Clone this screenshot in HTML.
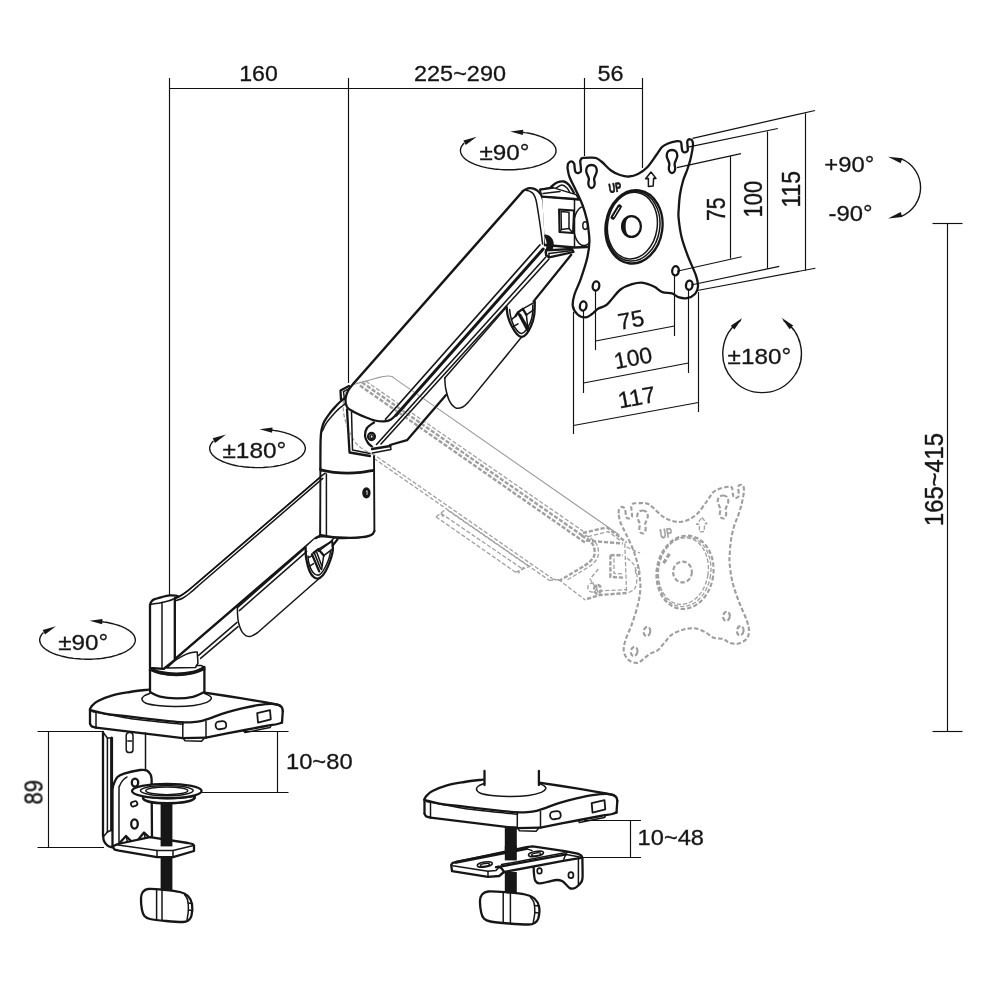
<!DOCTYPE html>
<html>
<head>
<meta charset="utf-8">
<title>Monitor arm dimensions</title>
<style>
html,body{margin:0;padding:0;background:#fff;}
body{width:1000px;height:1000px;overflow:hidden;}
svg{display:block;}
.k{fill:none;stroke:#161616;stroke-width:2.3;stroke-linecap:round;stroke-linejoin:round;}
.m{fill:none;stroke:#161616;stroke-width:1.5;stroke-linecap:round;stroke-linejoin:round;}
.t{fill:none;stroke:#111;stroke-width:1.15;stroke-linecap:butt;stroke-linejoin:round;}
.w{fill:#fff;}
.b{fill:#161616;stroke:none;}
.g{fill:none;stroke:#a0a0a0;stroke-width:1.3;stroke-dasharray:4.2 2;stroke-linecap:butt;stroke-linejoin:round;}
.g2{fill:none;stroke:#9e9e9e;stroke-width:2.1;stroke-dasharray:4.4 2.2;}
.g1{fill:none;stroke:#9a9a9a;stroke-width:1.1;}
.g3{fill:none;stroke:#a0a0a0;stroke-width:2.4;stroke-dasharray:4.2 1.8;}
.r{fill:none;stroke:#161616;stroke-width:1.4;}
text{font-family:"Liberation Sans",sans-serif;font-size:22.8px;fill:#161616;stroke:#161616;stroke-width:.3px;}
.v text{font-size:25px;stroke-width:.4px;}
.gt{fill:#a3a3a3;stroke:#a3a3a3;}
</style>
</head>
<body>
<svg width="1000" height="1000" viewBox="0 0 1000 1000" style="opacity:.999">
<rect width="1000" height="1000" fill="#fff"/>

<!-- ===== MAIN DRAWING ===== -->
<g id="main">
<path class="w" d="M90 709L90 724L96 727.6L182.8 738.2L206 737.6L245 730L277.5 724.4L282 722L282.6 709L280.6 706.4L274 704L242 698.4L206.8 692.8L176 690L148.4 689.6L112.5 695.4L98 701Z"/>
<path class="k" d="M148.4 689.6C145.3 690 136 691 130 692C124 693 117.8 693.9 112.5 695.4C107.2 696.9 101.3 699.3 98 701C94.7 702.7 93.7 704.1 92.4 705.4C91.1 706.7 90.4 708.4 90 709"/>
<path class="k" d="M204.6 692.6C210.8 693.6 230.4 696.5 242 698.4C253.6 700.3 267.7 702.8 274 704C280.3 705.2 278.3 705 279.6 705.6C280.9 706.2 281.5 706.7 282 707.6C282.5 708.5 282.7 710.4 282.8 711"/>
<path class="k" d="M282.8 711L282 722.6"/>
<path class="k" d="M90 710C92.5 710.6 98.3 712.5 105 713.6C111.7 714.7 120.5 715.5 130 716.6C139.5 717.7 154.3 719.5 162 720.4C169.7 721.3 172.5 721.5 176 721.8C179.5 722.1 181.7 722.3 182.8 722.4"/>
<path class="k" d="M182.8 722.4C184.5 722.4 189.8 722.5 193 722.2C196.2 721.9 198.8 721.6 202 720.8C205.2 720 208 719 212 717.6C216 716.2 221 714.1 226 712.6C231 711.1 236.7 709.6 242 708.4C247.3 707.2 253 706 258 705.2C263 704.4 268.3 703.7 272 703.8C275.7 703.9 278.7 705.3 280 705.6"/>
<path class="k" d="M90 709.4L90 723.6"/>
<path class="k" d="M90 723.6C90.3 724 90.6 725.5 91.6 726.2C92.6 726.9 95.3 727.4 96 727.6"/>
<path class="k" d="M96 727.6L182.8 738.2L206 737.6"/>
<path class="k" d="M206 737.6C212.5 736.3 235 731.9 245 730C255 728.1 260.6 727 266 726C271.4 725 274.8 724.6 277.5 724C280.2 723.4 281.2 722.7 282 722.4"/>
<path class="m" d="M96 713.6L96 727.4"/>
<path class="m" d="M182.8 722.6L182.8 738"/>
<path class="m" d="M206 721.4L206 737.4"/>
<path class="m" d="M92 711.4C98.3 712.6 116 716.4 130 718.4C144 720.4 167.2 722.6 176 723.6C184.8 724.6 181.8 724.1 183 724.2"/>
<path class="m" d="M183.4 738.6L185 740.8L201.6 741.2L204 738.4"/>
<path class="m" d="M244 730.6L245 732.6L270 727.6L271 725.6"/>
<rect class="k" x="215.6" y="721.4" width="10.6" height="7.6" rx="3.4" transform="rotate(-8 221 725.2)" style="stroke-width:1.8"/>
<path class="k" d="M257.2 713.2L270 710.2L270.8 719.4L258 722.6Z" style="stroke-width:1.8"/>
<path class="m w" d="M174.8 598C175.7 597.7 178 597.1 180 596C182 594.9 184 593.7 187 591.4C190 589.1 196 583.9 197.8 582.4L321.2 476.4L320.2 536L314.4 539.2L163.6 668.8L174.8 660Z"/>
<path class="k" d="M163.6 668.8L314.4 539.2C314.8 538.9 315.8 537.9 316.6 537.4C317.4 536.9 318.8 536.6 319.2 536.4"/>
<path class="m" d="M198.6 655.4L237 622.4"/>
<path class="m" d="M200.6 658.4L238 626.6"/>
<path class="w" d="M237.4 607.6C237.4 608.8 237.4 612.4 237.6 615C237.8 617.6 237.8 620.1 238.6 623C239.4 625.9 240.8 630.3 242.6 632.6C244.4 634.9 247.2 636.5 249.6 636.6C252 636.7 255.9 633.6 257.2 633L320 577.8C320.9 576.7 323.9 574.2 325.6 571.2C327.3 568.2 329.2 563.5 330.4 560C331.6 556.5 332.5 553.3 332.8 550.4C333.1 547.5 332.5 543.7 332.4 542.4L337.6 539.2L314.4 539.2L305.6 547.6Z"/>
<path class="m" d="M237.4 607.6C237.4 608.8 237.4 612.4 237.6 615C237.8 617.6 237.8 620.1 238.6 623C239.4 625.9 240.8 630.3 242.6 632.6C244.4 634.9 247.2 636.5 249.6 636.6C252 636.7 255.9 633.6 257.2 633L320 577.8"/>
<path class="m" d="M237.4 607.6L305.6 547.6"/>
<path class="m" d="M239.4 610.6L306.6 551.6"/>
<path class="k" d="M305.6 547.6C305.7 549.4 305.5 554.5 306.2 558.4C306.9 562.3 308.2 568 309.6 571.2C311 574.4 312.7 576.5 314.4 577.6C316.1 578.7 318.1 578.9 320 577.8C321.9 576.7 323.9 574.2 325.6 571.2C327.3 568.2 329.2 563.5 330.4 560C331.6 556.5 332.5 553.3 332.8 550.4C333.1 547.5 332.5 543.7 332.4 542.4"/>
<path class="m" d="M308 556C308.1 557 308.1 559.7 308.6 562C309.1 564.3 310.1 567.5 311.2 569.6C312.3 571.7 313.7 573.6 315.2 574.4C316.7 575.2 318.4 575.5 320 574.4C321.6 573.3 323.4 570.5 324.8 568C326.2 565.5 327.6 562.4 328.6 559.6C329.6 556.8 330.3 552.4 330.6 551"/>
<path class="k" d="M319.2 536.4C319.9 536.4 321.5 536.3 323.2 536.4C324.9 536.5 326.8 536.5 329.6 536.8C332.4 537.1 336.3 537.8 340 538C343.7 538.2 348.7 537.9 352 537.8C355.3 537.7 358.7 537.3 360 537.2"/>
<path class="m" d="M332.4 540.8L318.4 551.2"/>
<path class="k" d="M337.6 539.2L332.6 545.6"/>
<path class="m" d="M334 538L329.4 543"/>
<path class="k" d="M313.4 553L318.4 549.2L323.8 555.6"/>
<path class="k" d="M312 554.4L319.2 571.4"/>
<path class="m" d="M314.6 553.6L320.6 568.6"/>
<path class="m" d="M316.8 552.4L321.8 566"/>
<path class="m" d="M323.6 556L321.6 569.6"/>
<path class="m" d="M318.4 549.2L332.2 541"/>
<path class="m" d="M323.8 555.6L331.6 549.6"/>
<path class="m" d="M308.4 557.6L311.6 556"/>
<path class="m" d="M309.2 566.4L313.6 563.6"/>
<path class="k w" d="M150 668L150 605C150.2 604.5 150.5 602.9 151.2 602C151.9 601.1 152.2 600.2 154 599.4C155.8 598.6 159.3 597.7 162 597C164.7 596.3 167.8 595.6 170 595.4C172.2 595.2 174.1 595.4 175.5 595.6C176.9 595.8 178.1 596.4 178.6 596.6L174.8 598.4L174.8 660L163.6 668.8Z"/>
<path class="m" d="M150.6 604.4C151.5 604.3 154.1 603.9 156 603.6C157.9 603.3 159.8 602.9 162 602.4C164.2 601.9 166.9 601.5 169 600.8C171.1 600.1 173.8 598.8 174.8 598.4"/>
<path class="m" d="M162 602.6L162 668.6"/>
<path class="m" d="M174.8 598.4L174.8 660"/>
<path class="m w" d="M166.8 668C168.3 666.7 172.8 662.3 176 660C179.2 657.7 183.3 655.7 186 654.4C188.7 653.1 190.1 652.8 192 652.4C193.9 652 196.3 652.1 197.2 652L198 663.2L195.6 667.4Z"/>
<path class="k w" d="M150 669L150 692C151.7 692.8 155.6 695.5 160 696.6C164.4 697.7 170.9 698.4 176.4 698.4C181.9 698.4 188.3 697.9 193 696.8C197.7 695.7 202.5 692.8 204.4 692L204.4 667C202.5 667.9 197.7 671.4 193 672.6C188.3 673.8 181.9 674.3 176.4 674.4C170.9 674.5 164.4 673.9 160 673C155.6 672.1 151.7 669.7 150 669Z"/>
<path class="m" d="M196.4 665.4C197.2 665.4 199.7 665.3 201 665.6C202.3 665.9 203.8 666.9 204.4 667.2"/>
<path class="k" d="M149.2 668.6C151 669.3 155.5 671.6 160 672.6C164.5 673.6 170.9 674.4 176.4 674.4C181.9 674.4 188.2 673.6 193 672.6C197.8 671.6 203 668.9 205 668.2" style="stroke-width:3.6;stroke-linecap:butt"/>
<path class="m" d="M150 693.4C149 693.8 145.3 695 144 696C142.7 697 141.7 698.2 142 699.4C142.3 700.6 143 702.1 146 703.2C149 704.3 154.9 705.2 160 705.8C165.1 706.4 170.7 706.7 176.4 706.6C182.1 706.5 188.9 706.1 194 705.4C199.1 704.7 203.9 703.5 206.8 702.4C209.7 701.3 211 699.7 211.4 698.6C211.8 697.5 210.5 696.4 209.4 695.6C208.3 694.8 205.4 693.9 204.6 693.6"/>
<path class="k" d="M103 732L103 835"/>
<path class="k" d="M103 835C103.2 836 103.2 839.2 104 841C104.8 842.8 106.2 844.5 107.6 845.6C109 846.7 111.7 847.1 112.5 847.4"/>
<path class="m" d="M107.4 738L107.4 832"/>
<path class="k" d="M111.6 738L111.6 830" style="stroke-width:3"/>
<path class="m" d="M103.6 733L107.4 738L111.6 738"/>
<path class="m" d="M107.4 832L111.6 830"/>
<path class="m" d="M107.4 832L104 836"/>
<path class="m" d="M145.5 733L145.5 770.6"/>
<rect class="m" x="126.2" y="732.6" width="6.8" height="20" rx="3.2"/>
<path class="m" d="M127.8 741L131.6 741"/>
<path class="w" d="M112.5 790C112.7 789.2 112.6 787.2 113.4 785C114.2 782.8 115.7 778.9 117.5 777C119.3 775.1 120.2 774.8 124 773.6C127.8 772.4 136.2 770.5 140 770C143.8 769.5 145.2 769.8 147 770.6C148.8 771.4 149.8 773.2 150.6 774.6C151.4 776 151.4 778.3 151.6 779L152 838L112.5 847Z"/>
<path class="k" d="M112.5 846.6L112.5 790C112.7 789.2 112.6 787.2 113.4 785C114.2 782.8 115.7 778.9 117.5 777C119.3 775.1 120.2 774.8 124 773.6C127.8 772.4 136.2 770.5 140 770C143.8 769.5 145.2 769.8 147 770.6C148.8 771.4 149.8 773.2 150.6 774.6C151.4 776 151.4 778.3 151.6 779L152 838"/>
<path class="m" d="M119 842.5C119 834.1 118.9 801.4 119 792C119.1 782.6 119 787.9 119.6 786C120.2 784.1 121.4 782.1 122.6 780.6C123.8 779.1 126.3 777.6 127 777"/>
<ellipse class="k" cx="135" cy="782.6" rx="3.2" ry="4"/>
<ellipse class="k" cx="134.5" cy="824" rx="3.3" ry="4.6"/>
<rect class="k" x="131" y="801.6" width="6.4" height="4.6" rx="2" transform="rotate(-20 134 804)" style="stroke-width:1.8"/>
<path class="k" d="M120 842.6L126 836L132.5 842.6"/>
<path class="k" d="M137.5 840.4L144 832.6L151.4 839.4"/>
<path class="m" d="M126 836L127.6 842.6"/>
<path class="m" d="M144 832.6L145.6 840"/>
<path class="k w" d="M112.5 846.4L118 844L150 837.2L188 843L192.6 844L194 845.6L194 851L173 857.2L157 857.2L119 850.6L114.6 849.6Z"/>
<path class="m" d="M118 845L157 850.4L173 850.4L193.6 845.6"/>
<path class="m" d="M157 850.4L157 857"/>
<path class="m" d="M173 850.4L173 857"/>
<rect class="b" x="160.6" y="803" width="11.8" height="43.4"/>
<path class="k w" d="M143 798C143.8 805 189.8 805 194.8 798L194.8 796C176.8 799 156.8 799 143 796Z"/>
<ellipse class="k w" cx="166.8" cy="791" rx="34.8" ry="7.2"/>
<ellipse class="m" cx="166.8" cy="790.6" rx="26.4" ry="5.2"/>
<ellipse class="m" cx="166.8" cy="790.8" rx="21" ry="3.9"/>
<rect class="b" x="160.6" y="857.4" width="11.8" height="35"/>
<path class="k w" d="M141 898C141.1 895.1 141.4 893.9 142.6 892.4C143.8 890.9 144.4 889.4 148 889C151.6 888.6 158.7 889.3 164 889.8C169.3 890.3 176 891 180 892C184 893 186 894 188 896C190 898 191.4 900.7 192 904C192.6 907.3 192.1 913.2 191.4 916C190.7 918.8 189.4 919.6 188 920.6C186.6 921.6 186.7 921.9 183 922C179.3 922.1 171.5 921.5 166 921C160.5 920.5 153.6 919.8 150 919C146.4 918.2 145.7 917.5 144.4 916C143.1 914.5 142.6 913 142 910C141.4 907 140.9 900.9 141 898Z"/>
<path class="m" d="M156.6 890L156.6 920"/>
<path class="m" d="M162 890.4L162 920.6"/>
<path class="m" d="M184.6 894.6C185.1 895.5 187 897.4 187.6 900C188.2 902.6 188.5 906.7 188.4 910C188.3 913.3 187.2 918.3 187 920"/>
<path class="m" d="M188.4 903L191.6 903.4"/>
<path class="m" d="M188.4 910L191.6 910.4"/>
<path class="w" d="M320.2 470L320.2 536C321.5 535.2 325 536 328 536.4C331 536.8 334.3 537.2 338 537.4C341.7 537.6 346 537.8 350 537.8C354 537.8 358.8 537.5 362 537.2C365.2 536.9 367.2 536.4 369 535.8C370.8 535.2 371.9 534.6 372.8 533.8C373.7 533 374.1 531.5 374.4 531L374 456L352 452L349 410L345 399C343.5 400.2 338.5 403.7 336 406C333.5 408.3 332 410.3 330 413C328 415.7 325.4 419.2 324 422C322.6 424.8 322.1 427 321.5 430C320.9 433 320.8 438.3 320.6 440Z"/>
<path class="k" d="M320.4 468L320.2 535" style="stroke-width:1.9"/>
<path class="k" d="M320.2 535C321.5 535.2 325 536 328 536.4C331 536.8 334.3 537.2 338 537.4C341.7 537.6 346 537.8 350 537.8C354 537.8 358.8 537.5 362 537.2C365.2 536.9 367.2 536.4 369 535.8C370.8 535.2 371.9 534.6 372.8 533.8C373.7 533 374.1 531.5 374.4 531"/>
<path class="k" d="M374 456L374.4 531" style="stroke-width:1.9"/>
<path class="m" d="M326.4 474L326.4 536.6"/>
<path class="k" d="M320.4 469C320.4 464.2 320.4 446.5 320.6 440C320.8 433.5 320.9 433 321.5 430C322.1 427 322.6 424.8 324 422C325.4 419.2 328 415.7 330 413C332 410.3 334.2 408 336 406C337.8 404 339.4 402.4 341 401C342.6 399.6 344.8 398.1 345.5 397.5"/>
<path class="m" d="M322.4 431C323 429.8 324.4 426.1 326 423.6C327.6 421.1 330 418.3 332 416C334 413.7 335.7 411.7 338 409.6C340.3 407.5 344.3 404.6 345.6 403.6"/>
<path class="k" d="M320.6 470C322.8 470.4 329.5 471.9 334 472.4C338.5 472.9 343.1 473.2 347.6 473.2C352.1 473.2 356.7 472.9 361 472.4C365.3 471.9 371.3 470.7 373.4 470.4" style="stroke-width:2.8"/>
<ellipse class="k" cx="366.4" cy="492.8" rx="3.4" ry="4.8" style="fill:#161616;stroke-width:1.6"/>
<path class="m" d="M366.2 491.4L367.2 490.8L367 494.6" style="stroke:#fff;stroke-width:0.8"/>
<path class="k" d="M341 400L340.5 390.5L349 386"/>
<path class="m" d="M344.5 399.5L343.5 391.6L350.4 388"/>
<path class="w" d="M347 409L349.5 452.5L370 456L373.4 448L352 420Z"/>
<path class="k" d="M347 409.4L349.5 452.5L370 456"/>
<path class="m" d="M351.5 412L352.5 450L370 453.4"/>
<path class="m" d="M174.8 597.8C175.8 597.4 178.8 596.8 181 595.6C183.2 594.4 185.2 592.8 188 590.6C190.8 588.4 196.2 583.6 197.8 582.2L321.2 476.2L325.2 473.2" style="stroke-width:1.5"/>
<path class="m" d="M176 600.6C177.2 600.2 180.7 599.3 183 598C185.3 596.7 187.3 595.2 190 593C192.7 590.8 197.8 586.2 199.4 584.8L322.8 478.4"/>
<path class="w" d="M391 412.6L540 244.8L546 249L571.2 254.8L534 301.4L524 337.6L468.2 402.4L446 395L407 440.2L390 445L372 446.5C371.3 445.9 369.2 444.8 368 443C366.8 441.2 365.2 438.5 365 436C364.8 433.5 365.5 430.2 367 428C368.5 425.8 372.8 423.4 374 422.5Z"/>
<path class="w" d="M397.3 413.8C396.2 414.7 393.2 418.1 391 419.4C388.8 420.7 386.7 421.2 384 421.4C381.3 421.6 378.2 421.2 375 420.5C371.8 419.8 368.5 418.4 365 417C361.5 415.6 357 413.7 354 412C351 410.3 348.4 409.2 347 407C345.6 404.8 345.3 401.7 345.5 399C345.7 396.3 346.6 393.7 348 391C349.4 388.3 353 384.3 354 383L523 191C523.5 190.7 524.8 189.7 526 189.2C527.2 188.7 528.7 188.3 530 188.2C531.3 188.1 532.4 188.2 533.6 188.6C534.8 189 535.9 189.6 537 190.4C538.1 191.2 539.1 192.1 540 193.2C540.9 194.3 541.6 195.5 542.2 197C542.8 198.5 543 199 543.4 202C543.8 205 544.2 211 544.5 215C544.8 219 544.8 222.7 545 226C545.2 229.3 545.5 231.8 545.5 235C545.5 238.2 545.1 243.3 545 245L540 244.8L397.3 413.8Z"/>
<path class="k" d="M354 383L523 191" style="stroke-width:2.5"/>
<path class="k" d="M354 383C353 384.3 349.4 388.3 348 391C346.6 393.7 345.7 396.3 345.5 399C345.3 401.7 345.6 404.8 347 407C348.4 409.2 351 410.3 354 412C357 413.7 361.5 415.6 365 417C368.5 418.4 371.8 419.8 375 420.5C378.2 421.2 381.3 421.6 384 421.4C386.7 421.2 388.8 420.7 391 419.4C393.2 418.1 396.2 414.7 397.3 413.8"/>
<path class="k" d="M523 191C523.5 190.7 524.8 189.7 526 189.2C527.2 188.7 528.7 188.3 530 188.2C531.3 188.1 532.4 188.2 533.6 188.6C534.8 189 535.9 189.6 537 190.4C538.1 191.2 539.1 192.1 540 193.2C540.9 194.3 541.6 195.5 542.2 197C542.8 198.5 543 199 543.4 202C543.8 205 544.2 211 544.5 215C544.8 219 544.8 222.7 545 226C545.2 229.3 545.5 231.8 545.5 235C545.5 238.2 545.1 243.3 545 245"/>
<path class="m" d="M526 190.4C526.7 190.6 528.8 190.8 530 191.4C531.2 192 532.4 192.6 533.4 194C534.4 195.4 535.1 196.5 536 200C536.9 203.5 537.8 210 538.6 215C539.4 220 540.1 225.2 540.8 230C541.5 234.8 542.3 241.7 542.6 244"/>
<path class="m" d="M385.5 419.2L540 244.8" style="stroke-width:1.7"/>
<path class="k" d="M396 415.2L543.2 249" style="stroke-width:3"/>
<path class="m" d="M376.5 444.5L545.6 257.2" style="stroke-width:1.6"/>
<path class="m" d="M381 444L548.8 259.2" style="stroke-width:1.6"/>
<path class="k" d="M390 445L407 440.2L446 395"/>
<path class="k" d="M372 449L390.4 446"/>
<path class="m" d="M372.4 453L391 449.4L390.4 446"/>
<path class="k" d="M374 422.5C372.8 423.4 368.5 425.8 367 428C365.5 430.2 364.8 433.5 365 436C365.2 438.5 366.8 441.2 368 443C369.2 444.8 371.3 445.9 372 446.5"/>
<ellipse class="k" cx="371.5" cy="436.5" rx="3.4" ry="3.6"/>
<ellipse class="m" cx="371.7" cy="436.6" rx="1.6" ry="1.8"/>
<path class="k" d="M571.2 254.8L533.6 301.4"/>
<path class="w" d="M444.8 378.1C444.9 379.8 444.9 384.2 445.6 388C446.4 391.8 447.6 397.3 449.3 400.6C451 403.9 453.4 406.7 455.6 407.8C457.9 408.9 460.7 407.9 462.8 407C464.9 406.1 467.3 403.2 468.2 402.4L521.6 337C522.4 336.5 524.8 335.9 526.4 334C528 332.1 529.9 328.8 531.2 325.6C532.5 322.4 533.6 318.8 534.2 314.8C534.8 310.8 534.7 303.8 534.8 301.6L506.6 307Z"/>
<path class="m" d="M444.8 378.1C444.9 379.8 444.9 384.2 445.6 388C446.4 391.8 447.6 397.3 449.3 400.6C451 403.9 453.4 406.7 455.6 407.8C457.9 408.9 460.7 407.9 462.8 407C464.9 406.1 467.3 403.2 468.2 402.4L521.6 337"/>
<path class="m" d="M444.8 378.1L506.6 307"/>
<path class="k" d="M506.6 307C506.8 308.5 507 312.9 507.8 316C508.6 319.1 509.9 322.6 511.4 325.6C512.9 328.6 515.1 332.1 516.8 334C518.5 335.9 520 337 521.6 337C523.2 337 524.8 335.9 526.4 334C528 332.1 529.9 328.8 531.2 325.6C532.5 322.4 533.6 318.8 534.2 314.8C534.8 310.8 534.7 303.8 534.8 301.6"/>
<path class="m" d="M509.6 309.4C509.8 310.7 510.1 314.5 510.8 317.2C511.5 319.9 512.6 323.2 513.8 325.6C515 328 516.7 330.3 518 331.6C519.3 332.9 520.3 333.6 521.6 333.4C522.9 333.2 524.4 332.1 525.8 330.4C527.2 328.7 528.9 325.8 530 323.2C531.1 320.6 531.9 317.8 532.4 314.8C532.9 311.8 532.7 306.6 532.8 305"/>
<path class="k" d="M515.6 316L518 312.4L522.8 308.8L526.4 314.8"/>
<path class="k" d="M518 312.6L527.6 330.4"/>
<path class="m" d="M520.4 314.4L528.4 328.4"/>
<path class="m" d="M526.4 314.8L527.8 328"/>
<path class="m" d="M522.8 308.8L533.8 302.6"/>
<path class="m" d="M526.4 314.8L534 309.6"/>
<path class="m" d="M511.4 319.6L515.6 316.2"/>
<path class="m" d="M512.6 326.8L518 323.8"/>
<path class="w" d="M542 194L574.5 199L574.5 247.4L545 245Z"/>
<ellipse class="m w" cx="584" cy="226" rx="10.4" ry="19.6"/>
<ellipse class="m" cx="585.2" cy="225.6" rx="2.4" ry="3.8"/>
<path class="k w" d="M551 187C552 186.2 554.8 183.4 557 182.5C559.2 181.6 562 181.1 564 181.5C566 181.9 567.3 183.1 569 185C570.7 186.9 573.2 191.7 574 193"/>
<path class="m" d="M556 188C557 187.5 560.2 185 562 185C563.8 185 565.7 186.7 567 188C568.3 189.3 569.5 192.2 570 193"/>
<path class="m w" d="M540 189.6L553 187.6L576 194.6L579 199.6L574 199L542 196.6Z"/>
<path class="k" d="M542 196.6L574 199L579 199.6"/>
<path class="k" d="M540 189.6L553 187.6"/>
<path class="m" d="M543 193.6L560 191.6"/>
<path class="m" d="M574.5 199L574.5 247.4"/>
<path class="k" d="M545 245L574.5 247.5L587 247"/>
<path class="k" d="M559 209.5L574 210.5L573 233L559.5 232Z" style="stroke-width:2"/>
<path class="m" d="M561 211.6L569 212.2L569 228.4L561.4 229.4Z"/>
<path class="m" d="M569 228.4L573 233"/>
<path class="m" d="M561.4 229.4L559.5 232"/>
<path class="k" d="M545.4 235.6C546.1 235.9 548.4 236.3 549.6 237.4C550.8 238.5 552 240.2 552.4 242C552.8 243.8 552.7 246.3 552 248C551.3 249.7 549.1 251.6 548 252.4C546.9 253.2 546 252.6 545.6 252.6C545.9 251.7 547.3 248.9 547.6 247C547.9 245.1 547.8 242.9 547.4 241C547 239.1 545.7 236.5 545.4 235.6Z" style="fill:#161616"/>
<path class="k w" d="M546 250.4L572 249L573.5 252L549 257.4L546 255Z"/>
<path class="m" d="M549 253.6L572.6 250.6"/>
<path class="m" d="M549 253.6L549 257.4"/>
<path class="k w" d="M567.5 168C567.6 167.3 567.6 165.1 568 164C568.4 162.9 569.2 162.1 570 161.7C570.8 161.3 571.8 161.4 572.5 161.8C573.2 162.2 574 163.6 574.3 164C574.4 165.1 574.7 169.1 575 170.5C575.3 171.9 575.7 172.2 576.2 172.6C576.8 173 577.6 173.1 578.3 173C579 172.9 579.9 172.5 580.4 172C580.9 171.5 581 171.8 581 170C581 168.2 580.3 162.5 580.2 161C580.4 160.6 580.9 159 581.5 158.5C582.1 158 582.6 158 584 157.8C585.4 157.7 588 157.6 590 157.6C592 157.6 594 157.3 596 158C598 158.7 599.5 159.9 602 162C604.5 164.1 608 168.3 611 170.5C614 172.7 617 174 620 175C623 176 626 176.7 629 176.5C632 176.3 635 175.5 638 174C641 172.5 644 170.6 647 167.5C650 164.4 653.5 158.9 656 155.5C658.5 152.1 660 149 662 147C664 145 665.5 144.5 668 143.5C670.5 142.5 675 141.5 677 141.2C679 140.9 679.5 141.2 680.2 141.5C680.9 141.8 681.1 142.8 681.3 143C681.4 144.1 681.7 148 682 149.5C682.3 151 682.5 151.3 683 151.8C683.5 152.3 684.3 152.5 685 152.4C685.7 152.3 686.5 152 687 151.5C687.5 151 687.8 151.1 687.8 149.5C687.8 147.9 687.3 143.2 687.2 142C687.3 141.6 687.5 140.2 688 139.8C688.5 139.4 689.3 139.2 690 139.3C690.7 139.4 691.5 139.4 692 140.3C692.5 141.2 693.2 142.2 693 145C692.8 147.8 691.9 153 691 157C690.1 161 688.8 165 687.5 169C686.2 173 684.2 176.8 683 181C681.8 185.2 680.7 190 680 194.5C679.3 199 679 204.1 678.8 208C678.6 211.9 678.1 213.1 678.6 218C679.1 222.9 680 230.8 681.6 237.2C683.2 243.6 685.6 250 688 256.4C690.4 262.8 694.3 270.5 696 275.6C697.7 280.7 698.2 283.7 698 286.8C697.8 289.9 696.8 292.1 695 294C693.2 295.9 689.8 297.7 687 298.2C684.2 298.7 680.9 298 678.4 297.2C675.9 296.4 674.7 294.2 672 293.4C669.3 292.6 665.3 293.3 662.4 292.2C659.5 291.1 657.6 288.4 654.4 286.8C651.2 285.2 646.9 283.2 643.2 282.8C639.5 282.4 635.7 283.1 632 284.2C628.3 285.3 624 286.9 620.8 289.2C617.6 291.5 615.2 295.4 612.8 298C610.4 300.6 608.8 303.2 606.4 305C604 306.8 600.8 307.1 598.4 308.6C596 310.1 594.1 312.5 592 314C589.9 315.5 588 317.3 585.6 317.4C583.2 317.5 579.7 316.4 577.6 314.5C575.5 312.6 573.3 309.3 572.8 306C572.3 302.7 573.1 299.3 574.4 294.8C575.7 290.3 578.7 284.9 580.8 278.8C582.9 272.7 585.8 264.1 587.2 258C588.6 251.9 589.2 246.7 589.4 242C589.6 237.3 588.9 233.7 588.5 230C588.1 226.3 588 224.2 587 220C586 215.8 584.5 210.2 582.5 205C580.5 199.8 577.2 193.2 575 188.5C572.8 183.8 570.8 180.4 569.5 177C568.2 173.6 567.8 169.5 567.5 168Z"/>
<path class="k" d="M591.5 165C592.8 165 594.6 165.5 595.5 166.5C596.4 167.5 596.8 169.5 596.8 171C596.8 172.5 595.8 174.2 595.3 175.5C594.8 176.8 594.2 177.8 594.1 179C594 180.2 594.7 181.8 594.7 183C594.7 184.2 594.4 185.7 593.9 186.5C593.4 187.3 592.3 188 591.5 188C590.7 188 589.6 187.3 589.1 186.5C588.6 185.7 588.3 184.2 588.3 183C588.3 181.8 589 180.2 588.9 179C588.8 177.8 588.2 176.8 587.7 175.5C587.2 174.2 586.2 172.5 586.2 171C586.2 169.5 586.6 167.5 587.5 166.5C588.4 165.5 590.2 165 591.5 165Z"/>
<path class="k" d="M672 150C673.3 150 675.1 150.5 676 151.5C676.9 152.5 677.3 154.5 677.3 156C677.3 157.5 676.2 159.2 675.8 160.5C675.3 161.8 674.7 162.8 674.6 164C674.5 165.2 675.2 166.8 675.2 168C675.2 169.2 674.9 170.7 674.4 171.5C673.9 172.3 672.8 173 672 173C671.2 173 670.1 172.3 669.6 171.5C669.1 170.7 668.8 169.2 668.8 168C668.8 166.8 669.5 165.2 669.4 164C669.3 162.8 668.7 161.8 668.2 160.5C667.8 159.2 666.7 157.5 666.7 156C666.7 154.5 667.1 152.5 668 151.5C668.9 150.5 670.7 150 672 150Z"/>
<ellipse class="k" cx="596" cy="286" rx="3.3" ry="4.6" transform="rotate(8 596 286)"/>
<ellipse class="k" cx="583.2" cy="306" rx="3.3" ry="4.6" transform="rotate(8 583.2 306)"/>
<ellipse class="k" cx="675.5" cy="270.8" rx="3.3" ry="4.6" transform="rotate(8 675.5 270.8)"/>
<ellipse class="k" cx="689.3" cy="285.2" rx="3.3" ry="4.6" transform="rotate(8 689.3 285.2)"/>
<ellipse class="k" cx="634" cy="226.8" rx="28.4" ry="36.8" transform="rotate(8 634 226.8)"/>
<ellipse class="m" cx="633.2" cy="226.2" rx="26.6" ry="35" transform="rotate(8 633.2 226.2)"/>
<ellipse class="m" cx="632.4" cy="225.6" rx="24.8" ry="33.4" transform="rotate(8 632.4 225.6)"/>
<ellipse class="k" cx="631.5" cy="226.5" rx="9.4" ry="10.4"/>
<path class="b" d="M630.5 216.2A9.4 10.4 0 0 0 630.5 236.8A6.4 10.6 0 0 1 630.5 216.2Z"/>
<path class="k" d="M612.8 217.4L619.6 206.6" style="stroke-width:4.6"/>
<path class="k" d="M613.5 216.8L619.1 207.6" style="stroke:#fff;stroke-width:1"/>
<path class="m" d="M651 172L656 178.4L653.6 178.2L653.2 186L648.4 186.4L648.4 178.6L645.6 178.8Z"/>
<text transform="translate(609.6 193) rotate(-9)" style="font-size:13px;font-weight:bold;stroke:#161616;stroke-width:.8px;filter:grayscale(1)" textLength="12.4" lengthAdjust="spacingAndGlyphs">UP</text>
<path class="w" d="M424.5 799L424.5 814L430.5 817.6L517.3 828.2L540.5 827.6L579.5 820L612 814.4L616.5 812L617.1 799L615.1 796.4L608.5 794L576.5 788.4L541.3 782.8L510.5 780L482.9 779.6L447 785.4L432.5 791Z"/>
<path class="k" d="M482.9 779.6C479.8 780 470.5 781 464.5 782C458.5 783 452.3 783.9 447 785.4C441.7 786.9 435.9 789.3 432.5 791C429.1 792.7 428.2 794.1 426.9 795.4C425.6 796.7 424.9 798.4 424.5 799"/>
<path class="k" d="M539.1 782.6C545.3 783.6 564.9 786.5 576.5 788.4C588.1 790.3 602.2 792.8 608.5 794C614.8 795.2 612.8 795 614.1 795.6C615.4 796.2 616 796.7 616.5 797.6C617 798.5 617.2 800.4 617.3 801"/>
<path class="k" d="M617.3 801L616.5 812.6"/>
<path class="k" d="M424.5 800C427 800.6 432.8 802.5 439.5 803.6C446.2 804.7 455 805.5 464.5 806.6C474 807.7 488.8 809.5 496.5 810.4C504.2 811.3 507 811.5 510.5 811.8C514 812.1 516.2 812.3 517.3 812.4"/>
<path class="k" d="M517.3 812.4C519 812.4 524.3 812.5 527.5 812.2C530.7 811.9 533.3 811.6 536.5 810.8C539.7 810 542.5 809 546.5 807.6C550.5 806.2 555.5 804.1 560.5 802.6C565.5 801.1 571.2 799.6 576.5 798.4C581.8 797.2 587.5 796 592.5 795.2C597.5 794.4 602.8 793.7 606.5 793.8C610.2 793.9 613.2 795.3 614.5 795.6"/>
<path class="k" d="M424.5 799.4L424.5 813.6"/>
<path class="k" d="M424.5 813.6C424.8 814 425.1 815.5 426.1 816.2C427.1 816.9 429.8 817.4 430.5 817.6"/>
<path class="k" d="M430.5 817.6L517.3 828.2L540.5 827.6"/>
<path class="k" d="M540.5 827.6C547 826.3 569.5 821.9 579.5 820C589.5 818.1 595.1 817 600.5 816C605.9 815 609.3 814.6 612 814C614.7 813.4 615.8 812.7 616.5 812.4"/>
<path class="m" d="M430.5 803.6L430.5 817.4"/>
<path class="m" d="M517.3 812.6L517.3 828"/>
<path class="m" d="M540.5 811.4L540.5 827.4"/>
<path class="m" d="M426.5 801.4C432.8 802.6 450.5 806.4 464.5 808.4C478.5 810.4 501.7 812.6 510.5 813.6C519.3 814.6 516.3 814.1 517.5 814.2"/>
<path class="m" d="M517.9 828.6L519.5 830.8L536.1 831.2L538.5 828.4"/>
<path class="m" d="M578.5 820.6L579.5 822.6L604.5 817.6L605.5 815.6"/>
<rect class="k" x="550.1" y="811.4" width="10.6" height="7.6" rx="3.4" transform="rotate(-8 555.5 815.2)" style="stroke-width:1.8"/>
<path class="k" d="M591.7 803.2L604.5 800.2L605.3 809.4L592.5 812.6Z" style="stroke-width:1.8"/>
<path class="w" d="M484.5 771L484.5 786L538.9 786L538.9 771Z"/>
<path class="k" d="M484.5 771L484.5 785"/>
<path class="k" d="M538.9 771L538.9 785"/>
<path class="m" d="M484.5 783.4C483.5 783.8 479.8 785 478.5 786C477.2 787 476.2 788.2 476.5 789.4C476.8 790.6 477.5 792.1 480.5 793.2C483.5 794.3 489.4 795.2 494.5 795.8C499.6 796.4 505.2 796.7 510.9 796.6C516.6 796.5 523.4 796.1 528.5 795.4C533.6 794.7 538.4 793.5 541.3 792.4C544.2 791.3 545.5 789.7 545.9 788.6C546.3 787.5 545 786.4 543.9 785.6C542.8 784.8 539.9 783.9 539.1 783.6"/>
<rect class="b" x="504.8" y="826.4" width="12" height="34"/>
<rect class="b" x="504.8" y="872" width="12" height="21"/>
<path class="k w" d="M533.6 866C533.7 867.3 533.7 871.6 534 874C534.3 876.4 534.3 879 535.2 880.6C536.1 882.2 536.9 883.2 539.2 883.4C541.5 883.6 545.9 882.2 548.8 881.6C551.7 881 554.6 880.1 556.8 880C559 879.9 560.5 880.3 562 881C563.5 881.7 564.3 882.8 565.6 884C566.9 885.2 568.4 887.2 569.6 888C570.8 888.8 571.8 888.8 573 888.6C574.2 888.4 575.2 888.2 576.6 887C578 885.8 580.6 883.4 581.6 881.6C582.6 879.8 582.5 879.9 582.6 876C582.7 872.1 582.4 861.3 582.4 858.4"/>
<path class="m" d="M578.4 859.2L578.4 884"/>
<ellipse class="k" cx="539.5" cy="870.9" rx="2.3" ry="2.7" style="stroke-width:1.7"/>
<ellipse class="k" cx="570.9" cy="875.2" rx="2.5" ry="3" style="stroke-width:1.7"/>
<path class="k w" d="M451.2 864.8L452.6 862.8L526.4 847.2L532.8 846.4L564.8 851.2L577.6 853.6L581 855.2L582.4 857.6L563.2 860.8L504 872L499.2 876L488 876.8L452 871.2Z"/>
<path class="m" d="M452.8 865.8L488 871.2L496 870.4L499.2 867.2"/>
<path class="m" d="M488 871.2L488 876.6"/>
<path class="k" d="M456 862.2L526.4 848.6" style="stroke-width:3"/>
<path class="m" d="M526.4 848.6L532 850.6"/>
<path class="k" d="M504 872C503.6 871.4 502.5 869.3 501.6 868.4C500.7 867.5 499.5 867 498.6 866.8C497.7 866.6 496.4 867.1 496 867.2"/>
<path class="k" d="M498.6 866.8L566.4 854.4"/>
<path class="m" d="M501.6 864.6L564.8 852.8"/>
<path class="m" d="M563.4 860.6L566.4 852.6L570 851.8"/>
<path class="m" d="M566.4 854.4L582.4 857.4"/>
<ellipse class="m" cx="484.8" cy="864.5" rx="7.6" ry="2.5" transform="rotate(-9 484.8 864.5)"/>
<ellipse class="m" cx="485" cy="864.9" rx="4.6" ry="1.4" transform="rotate(-9 485 864.9)"/>
<ellipse class="m" cx="536" cy="853.9" rx="7.6" ry="2.5" transform="rotate(-9 536 853.9)"/>
<ellipse class="m" cx="536.2" cy="854.3" rx="4.6" ry="1.4" transform="rotate(-9 536.2 854.3)"/>
<rect class="b" x="504.8" y="846" width="12" height="14.4"/>
<path class="k w" d="M480 900.5C480.1 897.6 480.5 896.4 481.8 894.9C483.2 893.4 484 891.9 488.1 891.5C492.2 891.1 500.4 891.8 506.6 892.3C512.8 892.8 520.5 893.5 525.1 894.5C529.7 895.5 532.1 896.5 534.4 898.5C536.7 900.5 538.3 903.2 539 906.5C539.7 909.8 539.1 915.7 538.3 918.5C537.5 921.3 536 922.1 534.4 923.1C532.8 924.1 532.8 924.4 528.6 924.5C524.3 924.6 515.3 924 508.9 923.5C502.6 923 494.6 922.3 490.4 921.5C486.2 920.7 485.5 920 483.9 918.5C482.4 917 481.8 915.5 481.2 912.5C480.5 909.5 479.9 903.4 480 900.5Z"/>
<path class="m" d="M503.2 892.5L503.2 922.5"/>
<path class="m" d="M510.4 892.9L510.4 923.1"/>
<path class="m" d="M530.4 897.1C531 898 533.2 899.9 533.9 902.5C534.6 905.1 535 909.2 534.8 912.5C534.7 915.8 533.5 920.8 533.2 922.5"/>
<path class="m" d="M534.8 905.5L538.5 905.9"/>
<path class="m" d="M534.8 912.5L538.5 912.9"/>

</g>

<!-- ===== GHOST (lowered position) ===== -->
<g id="ghost" style="mix-blend-mode:darken">
<path class="g2" d="M618.5 513.5C618.6 512.8 618.6 510.6 619 509.5C619.4 508.4 620.2 507.6 621 507.2C621.8 506.8 622.8 506.9 623.5 507.3C624.2 507.7 625 509.1 625.3 509.5C625.4 510.6 625.7 514.6 626 516C626.3 517.4 626.7 517.7 627.2 518.1C627.8 518.5 628.6 518.6 629.3 518.5C630 518.4 630.9 518 631.4 517.5C631.9 517 632 517.3 632 515.5C632 513.7 631.3 508 631.2 506.5C631.4 506.1 631.9 504.5 632.5 504C633.1 503.5 633.6 503.4 635 503.3C636.4 503.2 639 503.1 641 503.1C643 503.1 645 502.8 647 503.5C649 504.2 650.5 505.4 653 507.5C655.5 509.6 659 513.8 662 516C665 518.2 668 519.5 671 520.5C674 521.5 677 522.2 680 522C683 521.8 686 521 689 519.5C692 518 695 516.1 698 513C701 509.9 704.5 504.4 707 501C709.5 497.6 711 494.5 713 492.5C715 490.5 716.5 490 719 489C721.5 488 726 487 728 486.7C730 486.4 730.5 486.7 731.2 487C731.9 487.3 732.1 488.2 732.3 488.5C732.4 489.6 732.7 493.5 733 495C733.3 496.5 733.5 496.8 734 497.3C734.5 497.8 735.3 497.9 736 497.9C736.7 497.8 737.5 497.5 738 497C738.5 496.5 738.8 496.6 738.8 495C738.8 493.4 738.3 488.8 738.2 487.5C738.3 487.1 738.5 485.8 739 485.3C739.5 484.9 740.3 484.7 741 484.8C741.7 484.9 742.5 484.9 743 485.8C743.5 486.8 744.2 487.7 744 490.5C743.8 493.3 742.9 498.5 742 502.5C741.1 506.5 739.8 510.5 738.5 514.5C737.2 518.5 735.2 522.2 734 526.5C732.8 530.8 731.7 535.5 731 540C730.3 544.5 730 549.6 729.8 553.5C729.6 557.4 729.1 558.6 729.6 563.5C730.1 568.4 731 576.3 732.6 582.7C734.2 589.1 736.6 595.5 739 601.9C741.4 608.3 745.3 616 747 621.1C748.7 626.2 749.2 629.2 749 632.3C748.8 635.4 747.8 637.6 746 639.5C744.2 641.4 740.8 643.2 738 643.7C735.2 644.2 731.9 643.5 729.4 642.7C726.9 641.9 725.7 639.7 723 638.9C720.3 638.1 716.3 638.8 713.4 637.7C710.5 636.6 708.6 633.9 705.4 632.3C702.2 630.7 697.9 628.7 694.2 628.3C690.5 627.9 686.7 628.6 683 629.7C679.3 630.8 675 632.4 671.8 634.7C668.6 637 666.2 640.9 663.8 643.5C661.4 646.1 659.8 648.7 657.4 650.5C655 652.3 651.8 652.6 649.4 654.1C647 655.6 645.1 658 643 659.5C640.9 661 639 662.8 636.6 662.9C634.2 663 630.7 661.9 628.6 660C626.5 658.1 624.3 654.8 623.8 651.5C623.3 648.2 624.1 644.8 625.4 640.3C626.7 635.8 629.7 630.4 631.8 624.3C633.9 618.2 636.8 609.6 638.2 603.5C639.6 597.4 640.2 592.2 640.4 587.5C640.6 582.8 639.9 579.2 639.5 575.5C639.1 571.8 639 569.7 638 565.5C637 561.3 635.5 555.8 633.5 550.5C631.5 545.2 628.2 538.7 626 534C623.8 529.3 621.8 525.9 620.5 522.5C619.2 519.1 618.8 515 618.5 513.5Z"/>
<path class="g2" d="M642.5 510.5C643.8 510.5 645.6 511 646.5 512C647.4 513 647.8 515 647.8 516.5C647.8 518 646.8 519.7 646.3 521C645.8 522.3 645.2 523.2 645.1 524.5C645 525.8 645.7 527.2 645.7 528.5C645.7 529.8 645.4 531.2 644.9 532C644.4 532.8 643.3 533.5 642.5 533.5C641.7 533.5 640.6 532.8 640.1 532C639.6 531.2 639.3 529.8 639.3 528.5C639.3 527.2 640 525.8 639.9 524.5C639.8 523.2 639.2 522.3 638.7 521C638.2 519.7 637.2 518 637.2 516.5C637.2 515 637.6 513 638.5 512C639.4 511 641.2 510.5 642.5 510.5Z"/>
<path class="g2" d="M723 495.5C724.3 495.5 726.1 496 727 497C727.9 498 728.3 500 728.3 501.5C728.3 503 727.2 504.7 726.8 506C726.3 507.3 725.7 508.2 725.6 509.5C725.5 510.8 726.2 512.2 726.2 513.5C726.2 514.8 725.9 516.2 725.4 517C724.9 517.8 723.8 518.5 723 518.5C722.2 518.5 721.1 517.8 720.6 517C720.1 516.2 719.8 514.8 719.8 513.5C719.8 512.2 720.5 510.8 720.4 509.5C720.3 508.2 719.7 507.3 719.2 506C718.8 504.7 717.7 503 717.7 501.5C717.7 500 718.1 498 719 497C719.9 496 721.7 495.5 723 495.5Z"/>
<ellipse class="g2" cx="647" cy="631.5" rx="3.3" ry="4.6" transform="rotate(8 647 631.5)"/>
<ellipse class="g2" cx="634.2" cy="651.5" rx="3.3" ry="4.6" transform="rotate(8 634.2 651.5)"/>
<ellipse class="g2" cx="726.5" cy="616.3" rx="3.3" ry="4.6" transform="rotate(8 726.5 616.3)"/>
<ellipse class="g2" cx="740.3" cy="630.7" rx="3.3" ry="4.6" transform="rotate(8 740.3 630.7)"/>
<ellipse class="g2" cx="685" cy="572.3" rx="28.4" ry="36.8" transform="rotate(8 685 572.3)"/>
<ellipse class="g" cx="684.2" cy="571.7" rx="26.6" ry="35" transform="rotate(8 684.2 571.7)"/>
<ellipse class="g" cx="683.4" cy="571.1" rx="24.8" ry="33.4" transform="rotate(8 683.4 571.1)"/>
<ellipse class="g2" cx="682.5" cy="572" rx="9.4" ry="10.4"/>
<path class="g2" d="M663.6 563.1L670.6 551.9" style="stroke-width:3.2"/>
<path class="g" d="M702 517.5L707 523.9L704.6 523.7L704.2 531.5L699.4 531.9L699.4 524.1L696.6 524.3Z"/>
<text class="gt" transform="translate(660.6 538.5) rotate(-9)" style="font-size:13px;font-weight:bold;stroke:#a3a3a3;stroke-width:.5px;filter:grayscale(1)" textLength="12.4" lengthAdjust="spacingAndGlyphs">UP</text>
<path class="g1" d="M352 385C353.3 384.6 357.3 383.3 360 382.6C362.7 381.9 364.9 381.4 368 380.6C371.1 379.8 375.1 378.4 378.4 377.6C381.7 376.8 385.7 376.2 388 376C390.3 375.8 390.9 376.2 392 376.6C393.1 377 394 378.1 394.4 378.4L619.4 535"/>
<path class="g" d="M366 381.3L583 531.1"/>
<path class="g3" d="M362 382.4L585 537.4"/>
<path class="g3" d="M360 385.6L586 543.2"/>
<path class="g" d="M372 453.3L552 578.4"/>
<path class="g" d="M374 458.5L549 580.1"/>
<path class="g" d="M352 385C350.8 386.5 346.5 390.2 345 394C343.5 397.8 343 403 343.2 408C343.4 413 344.3 418.1 346.4 424C348.5 429.9 352.3 438.4 356 443.2C359.7 448 365.9 450.9 368.8 452.8C371.7 454.7 372.8 454.1 373.6 454.4"/>
<path class="g" d="M436 516.8L515.6 572.2"/>
<path class="g" d="M441 513.4L522 568.6"/>
<path class="g" d="M447.6 510.2L529 566.4"/>
<path class="g" d="M436 516.8L445.6 509.6"/>
<path class="g" d="M441 513.4L443.6 517.4"/>
<path class="g" d="M515.6 572.2L530.6 565.8"/>
<path class="g" d="M524 567L518 573.4"/>
<path class="g" d="M552 578.8L560 580.6L585.2 600"/>
<path class="g" d="M549 580.4L560.6 579.6"/>
<path class="g3" d="M581.6 535.6C582.8 536.3 587 538.3 589 540C591 541.7 592.7 543.5 593.6 546C594.5 548.5 595.2 552.5 594.4 555.2C593.6 557.9 591.7 560 589 562.4C586.3 564.8 582.8 566.6 578 569.6C573.2 572.6 563 578.6 560 580.4"/>
<path class="g" d="M585 535C586.3 535.8 590.5 537.8 592.6 539.6C594.7 541.4 596.5 543.3 597.4 546C598.3 548.7 598.8 553 598 556C597.2 559 595.3 561.5 592.6 564C589.9 566.5 586.4 568.2 582 571C577.6 573.8 568.7 579 566 580.6"/>
<path class="g3" d="M583 533L606.8 527.3L626.6 542.6"/>
<path class="g3" d="M586 540.6L623 543.5"/>
<path class="g" d="M588 536.6L608 531.6L621 541"/>
<path class="g" d="M624.8 543.5L626.6 593"/>
<path class="g3" d="M626.6 593L599.6 595L585.2 599.6"/>
<path class="g" d="M599 591L626 589.6"/>
<path class="g3" d="M610.4 555.2L623 555.2"/>
<path class="g3" d="M610.4 555.2L610.4 576.8L623 577.6"/>
<path class="g" d="M614 558.6L614 573.4L622 573.8"/>
<path class="g" d="M598.4 569L590 579L599 593"/>
<ellipse class="g" cx="592.4" cy="587.6" rx="4.6" ry="4.6"/>
<ellipse class="g3" cx="597.6" cy="589.4" rx="3.4" ry="4.4"/>
<path class="g" d="M626.6 547L640 553"/>
<path class="g" d="M627 558C628.2 559.2 632.3 562 634 565C635.7 568 636.8 572.2 637 576C637.2 579.8 636.5 585.2 635 588C633.5 590.8 629.2 592.2 628 593"/>
<ellipse class="g" cx="637.6" cy="571" rx="2.2" ry="3.6"/>

</g>

<!-- ===== DIMENSION LINES ===== -->
<g id="dims" class="t">
<!-- top horizontal chain -->
<path d="M169 88.5H642.5"/>
<path d="M169.5 78V595.5"/>
<path d="M348.5 78V383"/>
<path d="M584.5 78V156"/>
<path d="M642.5 78V168"/>
<!-- right side vertical dims of plate -->
<path d="M677 167.6L741 153.6"/>
<path d="M677 271.2L741.7 256.8"/>
<path d="M730.5 156V258.7"/>
<path d="M688 147.1L777.8 128.5"/>
<path d="M691 285L779.3 266.4"/>
<path d="M767.5 131.4V268.7"/>
<path d="M692.5 138.4L815 110.5"/>
<path d="M696 290.8L815.4 268.2"/>
<path d="M805.5 113.3V270.6"/>
<!-- bottom dims of plate -->
<path d="M595.5 290V350"/>
<path d="M674.5 275V336"/>
<path d="M595.5 341L674.5 326"/>
<path d="M583.5 310V393"/>
<path d="M688.5 290V373"/>
<path d="M583.5 383L688.5 363"/>
<path d="M573.5 312V434"/>
<path d="M698.5 292V412"/>
<path d="M573.5 425.5L698.5 402.5"/>
<!-- right tall dim -->
<path d="M947.5 223V731"/>
<path d="M932.5 223.5H962.5"/>
<path d="M932.5 731.5H962.5"/>
<!-- 89 -->
<path d="M37.5 731.5H103"/>
<path d="M37.5 847.5H104"/>
<path d="M48.5 731.5V847.5"/>
<!-- 10~80 -->
<path d="M243 731.5H288.5"/>
<path d="M202 792.5H288.5"/>
<path d="M277.5 731.5V792.5"/>
<!-- 10~48 -->
<path d="M584 820.5H641"/>
<path d="M583 857.5H641"/>
<path d="M630.5 820.5V857.5"/>
</g>

<!-- ===== ROTATION SYMBOLS ===== -->
<g id="rot">
<path class="r" d="M522.2 132.2L524.6 132.6L526.9 132.9L529.2 133.3L531.4 133.8L533.6 134.3L535.7 134.9L537.7 135.5L539.6 136.1L541.5 136.8L543.2 137.5L544.9 138.3L546.4 139.0L547.9 139.9L549.2 140.7L550.5 141.6L551.6 142.5L552.6 143.4L553.4 144.3L554.2 145.3L554.8 146.3L555.3 147.3L555.7 148.3L555.9 149.3L556.0 150.3L556.0 151.3L555.9 152.3L555.6 153.3L555.2 154.3L554.6 155.2L554.0 156.2L553.2 157.2L552.3 158.1L551.2 159.0L550.1 159.9L548.8 160.8L547.4 161.6L545.9 162.4L544.3 163.2L542.6 163.9L540.8 164.6L539.0 165.3L537.0 165.9L535.0 166.5L532.9 167.1L530.7 167.6L528.5 168.0L526.2 168.4L523.8 168.8L521.4 169.1L519.0 169.3L516.6 169.5L514.1 169.7L511.6 169.8L509.1 169.8L506.6 169.8L504.1 169.7L501.6 169.6L499.1 169.4L496.7 169.2L494.3 169.0L491.9 168.6L489.6 168.3L487.3 167.9L485.1 167.4L482.9 166.9L480.8 166.3L478.8 165.7L476.9 165.1L475.0 164.4L473.3 163.7L471.6 162.9L470.1 162.2L468.6 161.3L467.3 160.5L466.0 159.6L464.9 158.7L463.9 157.8L463.1 156.9L462.3 155.9L461.7 154.9L461.2 153.9L460.8 152.9L460.6 151.9L460.5 150.9L460.5 149.9L460.6 148.9L460.9 147.9L461.3 146.9L461.9 146.0L462.5 145.0L463.3 144.0L464.2 143.1"/>
<path class="b" d="M510.3 131.4L523.2 129.7L522.8 134.9Z"/>
<path class="b" d="M476.8 136.8L465.7 145.1L463.4 140.5Z"/>
<path class="r" d="M271.5 430.0L273.8 430.4L276.2 430.7L278.5 431.1L280.7 431.6L282.8 432.1L284.9 432.7L286.9 433.3L288.9 433.9L290.7 434.6L292.5 435.3L294.1 436.1L295.7 436.8L297.1 437.7L298.5 438.5L299.7 439.4L300.8 440.3L301.8 441.2L302.7 442.1L303.4 443.1L304.1 444.1L304.6 445.1L304.9 446.1L305.2 447.1L305.3 448.1L305.3 449.1L305.1 450.1L304.8 451.1L304.4 452.1L303.9 453.0L303.2 454.0L302.4 455.0L301.5 455.9L300.5 456.8L299.3 457.7L298.0 458.6L296.7 459.4L295.2 460.2L293.6 461.0L291.9 461.7L290.1 462.4L288.2 463.1L286.3 463.7L284.2 464.3L282.1 464.9L279.9 465.4L277.7 465.8L275.4 466.2L273.1 466.6L270.7 466.9L268.3 467.1L265.8 467.3L263.3 467.5L260.8 467.6L258.3 467.6L255.8 467.6L253.3 467.5L250.8 467.4L248.4 467.2L245.9 467.0L243.5 466.8L241.2 466.4L238.8 466.1L236.5 465.7L234.3 465.2L232.2 464.7L230.1 464.1L228.1 463.5L226.1 462.9L224.3 462.2L222.5 461.5L220.9 460.7L219.3 460.0L217.9 459.1L216.5 458.3L215.3 457.4L214.2 456.5L213.2 455.6L212.3 454.7L211.6 453.7L210.9 452.7L210.4 451.7L210.1 450.7L209.8 449.7L209.7 448.7L209.7 447.7L209.9 446.7L210.2 445.7L210.6 444.7L211.1 443.8L211.8 442.8L212.6 441.8L213.5 440.9"/>
<path class="b" d="M259.6 429.2L272.5 427.5L272.1 432.7Z"/>
<path class="b" d="M226.0 434.6L215.0 442.9L212.7 438.3Z"/>
<path class="r" d="M101.5 621.6L103.8 622.0L106.2 622.3L108.5 622.7L110.7 623.2L112.8 623.7L114.9 624.3L116.9 624.9L118.9 625.5L120.7 626.2L122.5 626.9L124.1 627.7L125.7 628.4L127.1 629.3L128.5 630.1L129.7 631.0L130.8 631.9L131.8 632.8L132.7 633.7L133.4 634.7L134.1 635.7L134.6 636.7L134.9 637.7L135.2 638.7L135.3 639.7L135.3 640.7L135.1 641.7L134.8 642.7L134.4 643.7L133.9 644.6L133.2 645.6L132.4 646.6L131.5 647.5L130.5 648.4L129.3 649.3L128.0 650.2L126.7 651.0L125.2 651.8L123.6 652.6L121.9 653.3L120.1 654.0L118.2 654.7L116.3 655.3L114.2 655.9L112.1 656.5L109.9 657.0L107.7 657.4L105.4 657.8L103.1 658.2L100.7 658.5L98.3 658.7L95.8 658.9L93.3 659.1L90.8 659.2L88.3 659.2L85.8 659.2L83.3 659.1L80.8 659.0L78.4 658.8L75.9 658.6L73.5 658.4L71.2 658.0L68.8 657.7L66.5 657.3L64.3 656.8L62.2 656.3L60.1 655.7L58.1 655.1L56.1 654.5L54.3 653.8L52.5 653.1L50.9 652.3L49.3 651.6L47.9 650.7L46.5 649.9L45.3 649.0L44.2 648.1L43.2 647.2L42.3 646.3L41.6 645.3L40.9 644.3L40.4 643.3L40.1 642.3L39.8 641.3L39.7 640.3L39.7 639.3L39.9 638.3L40.2 637.3L40.6 636.3L41.1 635.4L41.8 634.4L42.6 633.4L43.5 632.5"/>
<path class="b" d="M89.6 620.8L102.5 619.1L102.1 624.3Z"/>
<path class="b" d="M56.0 626.2L45.0 634.5L42.7 629.9Z"/>
<path class="r" d="M740.7 320.4A39.3 39.3 0 1 0 783.5 320.4"/>
<path class="b" d="M742.3 318.0L734.4 329.4L730.8 325.8Z"/>
<path class="b" d="M781.6 317.7L793.2 325.6L789.6 329.2Z"/>
<path class="r" d="M901.3 158.9A31.0 31.0 0 0 1 901.3 216.3"/>
<path class="b" d="M888.0 156.7L902.3 158.3L900.7 163.3Z"/>
<path class="b" d="M888.0 218.5L900.7 211.9L902.3 216.9Z"/>

</g>

<!-- ===== TEXT ===== -->
<g id="labels">
<text x="239.2" y="81.2" textLength="38.6" lengthAdjust="spacingAndGlyphs">160</text>
<text x="414" y="81.2" textLength="92" lengthAdjust="spacingAndGlyphs">225~290</text>
<text x="597.4" y="81.2" textLength="26" lengthAdjust="spacingAndGlyphs">56</text>
<text x="824.3" y="172" textLength="50" lengthAdjust="spacingAndGlyphs">+90°</text>
<text x="828.6" y="221.2" textLength="44" lengthAdjust="spacingAndGlyphs">-90°</text>
<text x="727.6" y="363.8" textLength="63.5" lengthAdjust="spacingAndGlyphs">±180°</text>
<text x="479.4" y="160" textLength="50" lengthAdjust="spacingAndGlyphs">±90°</text>
<text x="222.4" y="457.7" textLength="64" lengthAdjust="spacingAndGlyphs">±180°</text>
<text x="58.3" y="649.5" textLength="50" lengthAdjust="spacingAndGlyphs">±90°</text>
<text x="286" y="768.8" textLength="66.6" lengthAdjust="spacingAndGlyphs">10~80</text>
<text x="637.6" y="845" textLength="66.4" lengthAdjust="spacingAndGlyphs">10~48</text>
<g class="v">
<text transform="translate(943 526) rotate(-90)" textLength="93" lengthAdjust="spacingAndGlyphs">165~415</text>
<text transform="translate(42.5 804.5) rotate(-90)" textLength="24.5" lengthAdjust="spacingAndGlyphs">89</text>
<text transform="translate(724.6 221) rotate(-90)" textLength="23.4" lengthAdjust="spacingAndGlyphs">75</text>
<text transform="translate(761.8 217.4) rotate(-90)" textLength="36.6" lengthAdjust="spacingAndGlyphs">100</text>
<text transform="translate(799.8 207.6) rotate(-90)" textLength="36.6" lengthAdjust="spacingAndGlyphs">115</text>
</g>
<text transform="translate(619.6 330) rotate(-10.6)" textLength="26" lengthAdjust="spacingAndGlyphs">75</text>
<text transform="translate(615.6 369.2) rotate(-10.6)" textLength="38.4" lengthAdjust="spacingAndGlyphs">100</text>
<text transform="translate(619.6 408.6) rotate(-10.6)" textLength="37.6" lengthAdjust="spacingAndGlyphs">117</text>
</g>
</svg>
</body>
</html>
